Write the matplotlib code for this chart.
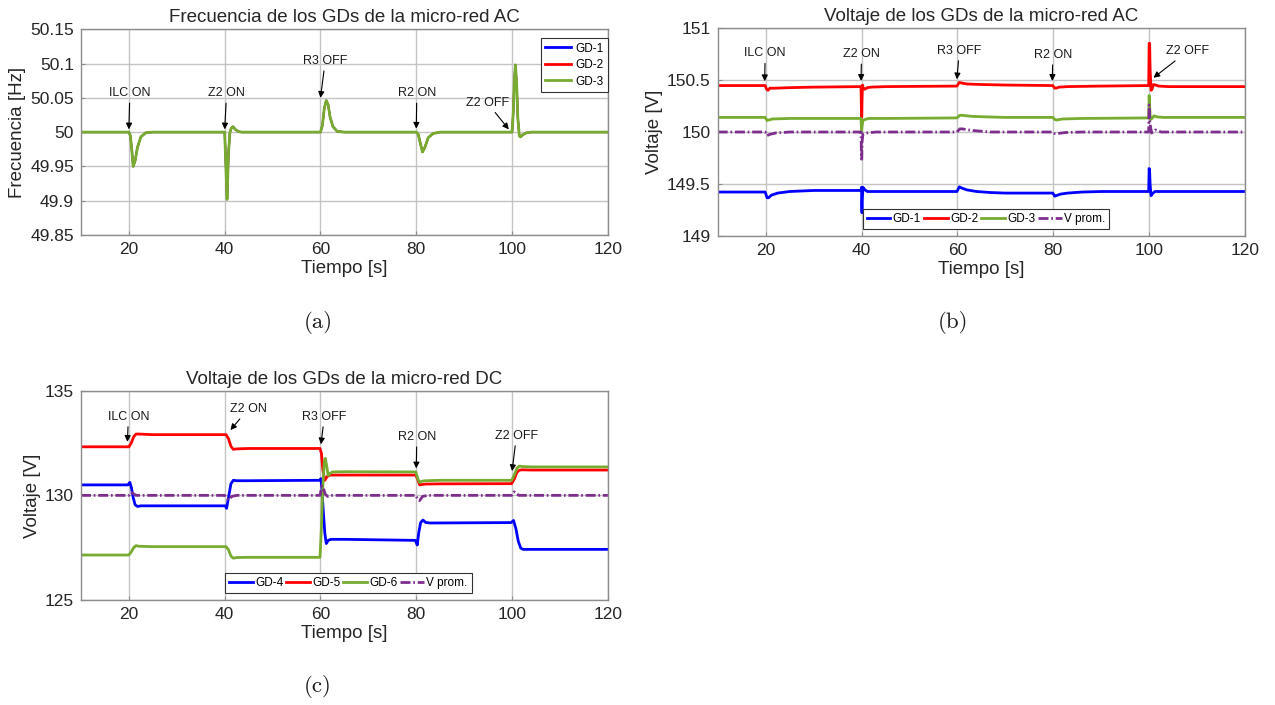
import matplotlib
matplotlib.use("Agg")
import matplotlib.pyplot as plt
from matplotlib.ticker import FuncFormatter

plt.rcParams["font.family"] = ["Liberation Sans", "DejaVu Sans"]

AZUL = "#0000ff"
ROJO = "#ff0000"
VERDE = "#77ac30"
MORADO = "#7e2f8e"

# --- (a) frecuencia de los GDs AC (las tres curvas coinciden) ---
t_frec = [10, 20, 20.3, 20.6, 20.9, 21.3, 21.8, 22.5, 23.5, 25,
          40, 40.2, 40.5, 40.8, 41.1, 41.4, 41.75, 42.2, 42.8, 43.5,
          60, 60.4, 60.8, 61.2, 61.6, 62.0, 62.6, 63.5, 65,
          80, 80.4, 80.9, 81.3, 81.8, 82.5, 83.5, 85,
          100, 100.25, 100.5, 100.7, 100.95, 101.2, 101.5, 101.75, 102.2, 103, 104, 120]
frec_gd = [50, 50, 49.995, 49.975, 49.95, 49.958, 49.978, 49.993, 49.999, 50,
           50, 49.96, 49.902, 49.97, 50.0, 50.006, 50.008, 50.004, 50.001, 50,
           50, 50.01, 50.035, 50.046, 50.04, 50.022, 50.008, 50.001, 50,
           50, 49.997, 49.982, 49.971, 49.978, 49.992, 49.998, 50,
           50, 50.03, 50.08, 50.098, 50.07, 50.02, 49.995, 49.993, 49.996, 49.999, 50, 50]

# --- (b) voltaje de los GDs AC ---
t_gd1 = [10, 19.9, 20.3, 20.6, 21.2, 22.5, 25, 30, 39.9, 40.0, 40.05, 40.1, 40.15, 40.3,
         40.6, 41.2, 42, 45, 59.9, 60.4, 60.8, 62, 64, 67, 70, 79.9, 80.3, 80.6, 81.5, 83,
         86, 90, 99.9, 100.0, 100.1, 100.2, 100.4, 100.7, 101.2, 102, 120]
v_gd1 = [149.425, 149.425, 149.37, 149.37, 149.395, 149.415, 149.43, 149.44, 149.44, 149.47,
         149.3, 149.226, 149.35, 149.47, 149.45, 149.43, 149.43, 149.43, 149.43, 149.475,
         149.465, 149.445, 149.43, 149.42, 149.415, 149.415, 149.385, 149.39, 149.405, 149.415,
         149.425, 149.43, 149.43, 149.65, 149.62, 149.5, 149.39, 149.41, 149.43, 149.43, 149.43]
t_gd2 = [10, 19.9, 20.2, 20.5, 20.9, 22, 25, 30, 39.9, 40.0, 40.05, 40.1, 40.2, 40.4, 40.7,
         41.2, 42, 45, 59.9, 60.4, 60.8, 62, 65, 70, 79.9, 80.3, 80.6, 81.2, 83, 90, 99.9,
         100.0, 100.1, 100.2, 100.4, 100.6, 100.9, 101.3, 102, 104, 120]
v_gd2 = [150.445, 150.445, 150.41, 150.40, 150.42, 150.42, 150.425, 150.43, 150.435, 150.14,
         150.14, 150.3, 150.45, 150.42, 150.41, 150.425, 150.43, 150.435, 150.44, 150.475,
         150.47, 150.46, 150.455, 150.45, 150.445, 150.42, 150.42, 150.43, 150.435, 150.44,
         150.445, 150.85, 150.85, 150.6, 150.40, 150.41, 150.455, 150.45, 150.44, 150.435, 150.435]
t_gd3 = [10, 19.9, 20.3, 20.6, 21.5, 25, 39.9, 40.0, 40.1, 40.3, 40.7, 41.5, 45, 59.9, 60.5,
         61, 63, 66, 70, 79.9, 80.3, 80.7, 82, 86, 99.9, 100.0, 100.1, 100.25, 100.6, 101,
         101.6, 103, 120]
v_gd3 = [150.14, 150.14, 150.11, 150.115, 150.125, 150.13, 150.13, 150.0, 150.05, 150.11,
         150.12, 150.13, 150.13, 150.135, 150.16, 150.16, 150.15, 150.145, 150.14, 150.14,
         150.12, 150.115, 150.125, 150.13, 150.135, 150.35, 150.25, 150.12, 150.13, 150.155,
         150.145, 150.14, 150.14]
t_vac = [10, 19.9, 20.3, 20.7, 22, 25, 39.9, 40.0, 40.05, 40.1, 40.3, 41, 43, 59.9, 60.5, 61,
         63, 67, 79.9, 80.3, 80.8, 82.5, 86, 99.9, 100.0, 100.05, 100.15, 100.3, 100.5, 100.8,
         101.3, 102.5, 120]
v_vac = [150.0, 150.0, 149.965, 149.975, 149.99, 150.0, 150.0, 149.74, 149.74, 149.9, 149.98,
         149.99, 150.0, 150.0, 150.03, 150.03, 150.015, 150.0, 150.0, 149.985, 149.985, 149.995,
         150.0, 150.0, 150.26, 150.2, 150.08, 150.05, 149.99, 150.0, 150.02, 150.0, 150.0]

# --- (c) voltaje de los GDs DC ---
t_gd4 = [10, 19.8, 20.2, 20.5, 20.9, 21.3, 21.8, 22.5, 25, 40.1, 40.4, 40.8, 41.3, 41.8,
         42.5, 45, 59.8, 60.1, 60.3, 60.6, 60.9, 61.2, 61.6, 62.2, 65, 79.8, 80.2, 80.5, 80.9,
         81.4, 82, 83, 99.8, 100.3, 100.8, 101.3, 101.8, 102.3, 103, 120]
v_gd4 = [130.5, 130.5, 130.62, 130.4, 129.9, 129.55, 129.47, 129.5, 129.5, 129.5, 129.38,
         129.9, 130.55, 130.72, 130.7, 130.7, 130.72, 130.8, 130.3, 129.2, 128.2, 127.7, 127.85,
         127.9, 127.9, 127.85, 127.63, 128.2, 128.7, 128.82, 128.7, 128.68, 128.7, 128.8, 128.4,
         127.8, 127.48, 127.42, 127.42, 127.42]
t_gd5 = [10, 20, 20.5, 21, 21.5, 22, 25, 40.3, 40.8, 41.3, 41.8, 42.5, 45, 59.9, 60.2, 60.5,
         60.9, 61.4, 62, 65, 79.9, 80.3, 80.7, 81.2, 82, 85, 99.9, 100.5, 101, 101.5, 102, 104, 120]
v_gd5 = [132.32, 132.32, 132.5, 132.8, 132.93, 132.93, 132.9, 132.9, 132.7, 132.35, 132.2,
         132.22, 132.24, 132.24, 132.0, 131.2, 130.72, 130.9, 130.97, 130.97, 130.97, 130.75,
         130.5, 130.52, 130.54, 130.55, 130.56, 130.8, 131.1, 131.2, 131.22, 131.21, 131.21]
t_gd6 = [10, 20, 20.5, 21, 21.5, 22, 25, 40.3, 40.8, 41.3, 41.8, 42.5, 45, 59.9, 60.2, 60.5,
         60.8, 61.0, 61.3, 61.6, 62.0, 62.5, 65, 79.9, 80.3, 80.7, 81.2, 82, 85, 99.9, 100.5,
         101, 101.5, 102, 104, 120]
v_gd6 = [127.15, 127.15, 127.3, 127.5, 127.6, 127.57, 127.55, 127.55, 127.4, 127.1, 127.0,
         127.03, 127.04, 127.04, 128.5, 130.5, 131.6, 131.77, 131.4, 130.95, 131.05, 131.12,
         131.13, 131.12, 130.8, 130.62, 130.68, 130.7, 130.72, 130.72, 131.0, 131.3, 131.4,
         131.38, 131.36, 131.36]
t_vdc = [10, 20, 20.4, 20.8, 21.5, 22.5, 40, 40.4, 40.8, 41.5, 42.5, 59.9, 60.3, 60.6, 61.0,
         61.5, 62.5, 79.9, 80.3, 80.7, 81.3, 82.5, 99.9, 100.4, 100.8, 101.4, 102.5, 120]
v_vdc = [130, 130, 130.15, 130.1, 130.0, 130, 130, 129.85, 129.78, 129.95, 130, 130, 130.45,
         130.35, 130.05, 129.95, 130, 130, 129.8, 129.75, 129.95, 130, 130, 130.17, 130.1,
         130.0, 130, 130]

# eventos: (texto, posicion del texto, punta de la flecha)
eventos_frec = [("ILC ON", (20.2, 50.057), (20, 50.004)),
                ("Z2 ON", (40.4, 50.057), (40, 50.004)),
                ("R3 OFF", (61.0, 50.104), (60, 50.05)),
                ("R2 ON", (80.1, 50.057), (80, 50.005)),
                ("Z2 OFF", (94.8, 50.043), (99.3, 50.004))]
eventos_vac = [("ILC ON", (19.9, 150.754), (19.8, 150.487)),
               ("Z2 ON", (40.0, 150.748), (39.9, 150.49)),
               ("R3 OFF", (60.4, 150.78), (59.9, 150.505)),
               ("R2 ON", (79.9, 150.74), (79.8, 150.49)),
               ("Z2 OFF", (108.0, 150.773), (100.9, 150.52))]
eventos_vdc = [("ILC ON", (19.9, 133.76), (19.7, 132.56)),
               ("Z2 ON", (44.9, 134.12), (41.2, 133.12)),
               ("R3 OFF", (60.8, 133.76), (60.1, 132.44)),
               ("R2 ON", (80.1, 132.8), (80.0, 131.29)),
               ("Z2 OFF", (100.9, 132.85), (100.0, 131.16))]

DASHDOT = (0, (3.6, 1.0, 0.6, 1.0))
LW = 2.0


def preparar_ejes(ax, ylim, yticks, titulo, ylabel):
    ax.set_xlim(10, 120)
    ax.set_ylim(*ylim)
    ax.set_xticks([20, 40, 60, 80, 100, 120])
    ax.set_yticks(yticks)
    ax.yaxis.set_major_formatter(FuncFormatter(lambda v, _: f"{v:g}"))
    ax.grid(True, color="#c4c4c4", lw=1.0)
    ax.set_axisbelow(True)
    for s in ax.spines.values():
        s.set_color("#8c8c8c")
        s.set_linewidth(1.0)
    ax.tick_params(direction="in", length=3, color="#8c8c8c", labelsize=12.5,
                   labelcolor="#262626", pad=5)
    ax.set_title(titulo, fontsize=13.5, color="#262626", pad=5)
    ax.set_xlabel("Tiempo [s]", fontsize=13.5, color="#262626", labelpad=2)
    ax.set_ylabel(ylabel, fontsize=13.5, color="#262626", labelpad=3)


def anotar(ax, eventos):
    for texto, pos, punta in eventos:
        ax.annotate(texto, xy=punta, xytext=pos, ha="center", va="center",
                    fontsize=9, color="#1a1a1a",
                    arrowprops=dict(arrowstyle="-|>", color="black", lw=0.8,
                                    mutation_scale=9, shrinkA=1, shrinkB=0))


def marco_leyenda(leg):
    leg.get_frame().set_edgecolor("#333333")
    leg.get_frame().set_linewidth(0.8)
    for h in leg.get_lines():
        h.set_linewidth(LW)


fig = plt.figure(figsize=(12.75, 7.05), dpi=100)
ax_a = fig.add_axes([0.0635, 0.6667, 0.4133, 0.2918])
ax_b = fig.add_axes([0.5629, 0.6647, 0.4136, 0.2961])
ax_c = fig.add_axes([0.0635, 0.1489, 0.4133, 0.2969])

# (a): GD-1 y GD-2 quedan tapadas por GD-3
ax_a.plot(t_frec, frec_gd, color=AZUL, lw=LW * 0.7, label="GD-1")
ax_a.plot(t_frec, frec_gd, color=ROJO, lw=LW * 0.7, label="GD-2")
ax_a.plot(t_frec, frec_gd, color=VERDE, lw=LW, label="GD-3")
preparar_ejes(ax_a, (49.85, 50.15), [49.85, 49.9, 49.95, 50, 50.05, 50.1, 50.15],
              "Frecuencia de los GDs de la micro-red AC", "Frecuencia [Hz]")
anotar(ax_a, eventos_frec)
leg = ax_a.legend(loc="upper right", bbox_to_anchor=(1.0, 0.958), borderaxespad=0,
                  fontsize=8.5, handlelength=2.2, handletextpad=0.3, labelspacing=0.38,
                  borderpad=0.4, fancybox=False, framealpha=1)
marco_leyenda(leg)

# (b)
ax_b.plot(t_gd1, v_gd1, color=AZUL, lw=LW, label="GD-1")
ax_b.plot(t_gd2, v_gd2, color=ROJO, lw=LW, label="GD-2")
ax_b.plot(t_gd3, v_gd3, color=VERDE, lw=LW, label="GD-3")
ax_b.plot(t_vac, v_vac, color=MORADO, lw=LW, ls=DASHDOT, label="V prom.")
preparar_ejes(ax_b, (149, 151), [149, 149.5, 150, 150.5, 151],
              "Voltaje de los GDs de la micro-red AC", "Voltaje [V]")
anotar(ax_b, eventos_vac)

# (c)
ax_c.plot(t_gd4, v_gd4, color=AZUL, lw=LW, label="GD-4")
ax_c.plot(t_gd5, v_gd5, color=ROJO, lw=LW, label="GD-5")
ax_c.plot(t_gd6, v_gd6, color=VERDE, lw=LW, label="GD-6")
ax_c.plot(t_vdc, v_vdc, color=MORADO, lw=LW, ls=DASHDOT, label="V prom.")
preparar_ejes(ax_c, (125, 135), [125, 130, 135],
              "Voltaje de los GDs de la micro-red DC", "Voltaje [V]")
anotar(ax_c, eventos_vdc)

for ax, x0, y0 in ((ax_b, 0.275, 0.035), (ax_c, 0.273, 0.033)):
    leg = ax.legend(loc="lower left", bbox_to_anchor=(x0, y0), borderaxespad=0, ncol=4,
                    fontsize=8.5, handlelength=2.0, handletextpad=0.2, columnspacing=0.25,
                    borderpad=0.35, fancybox=False, framealpha=1)
    marco_leyenda(leg)

# etiquetas de cada subfigura
for x, y, letra in ((318, 323, "(a)"), (953, 323, "(b)"), (318, 686, "(c)")):
    fig.text(x / 1275, 1 - y / 705, letra, ha="center", va="center",
             fontsize=16.5, family="cmr10", color="#1a1a1a")

fig.savefig("out.png", dpi=100)
